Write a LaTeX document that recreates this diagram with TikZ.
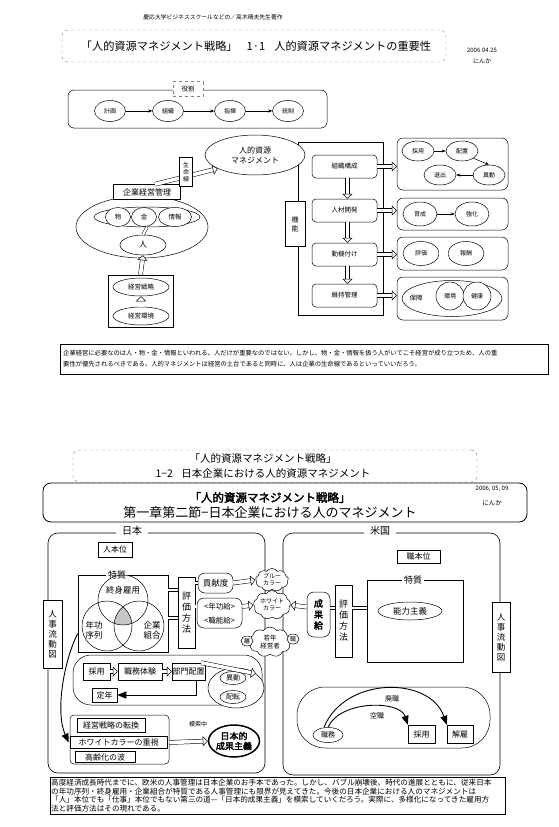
\documentclass[tikz,border=0pt]{standalone}
\usepackage{fontspec}
\newfontfamily\jp{Noto Sans CJK JP}
\newfontfamily\jpb[FakeBold=2.5]{Noto Sans CJK JP}
\usetikzlibrary{shapes.geometric,shapes.symbols,arrows.meta}
\newcommand\fsz[2]{\fontsize{#1}{#2}\selectfont}
\begin{document}
\begin{tikzpicture}[x=1pt,y=-1pt,font=\jp,
 ln/.style={line width=0.5pt},
 ell/.style={ellipse, draw, line width=0.5pt, inner sep=0pt, fill=white},
 bx/.style={rectangle, draw, line width=0.5pt, inner sep=0pt, fill=white},
 rbx/.style={rectangle, rounded corners=4pt, draw, line width=0.5pt, inner sep=0pt, fill=white},
 txt/.style={inner sep=0pt},
 cld/.style={cloud, cloud puffs=9, cloud puff arc=110, aspect=1.4, draw, line width=0.5pt, inner sep=0pt, fill=white},
 harrow/.style={double=white, double distance=3.6pt, line width=0.5pt, -{Triangle[length=5pt,width=10pt,fill=white]}},
 dline/.style={double=white, double distance=2.2pt, line width=0.45pt},
 arr/.style={line width=0.5pt, -{Stealth[length=4pt,width=3pt]}},
 bigarr/.style={line width=1pt, -{Triangle[length=9pt,width=7pt]}},
 vt/.style={align=center}
]
\useasboundingbox[fill=white] (0,0) rectangle (559,827);

% ---------- top header ----------
\node[txt, font=\jp\fsz{5.8}{7}] (hand) at (213,17) {慶応大学ビジネススクールなどの／高木晴夫先生著作};
\node[draw=gray, dashed, rounded corners=6pt, minimum width=384pt, minimum height=32pt, inner sep=0] (t1box) at (254,46) {};
\node[txt, font=\jp\fsz{11.2}{13}] (t1) at (256,46) {「人的資源マネジメント戦略」\hspace{0.8em}1·1\hspace{0.8em}人的資源マネジメントの重要性};
\node[txt, font=\jp\fsz{6}{7}] (d1) at (482,50) {2006.04.25};
\node[txt, font=\jp\fsz{6}{7}] (n1) at (482,61) {にんか};

% ---------- 役割 ----------
\node[draw, line width=0.5pt, rounded corners=6pt, minimum width=259pt, minimum height=38pt, inner sep=0] (yframe) at (197.5,109) {};
\node[draw=gray, dashed, fill=white, minimum width=30pt, minimum height=15pt, inner sep=0, font=\jp\fsz{6.5}{7}] (yaku) at (188,89) {役割};
\node[ell, minimum width=31pt, minimum height=21pt, font=\jp\fsz{6}{7}] (keikaku) at (110,111) {計画};
\node[ell, minimum width=31pt, minimum height=21pt, font=\jp\fsz{6}{7}] (soshiki) at (168,111) {組織};
\node[ell, minimum width=31pt, minimum height=21pt, font=\jp\fsz{6}{7}] (shiki) at (230,111) {指揮};
\node[ell, minimum width=31pt, minimum height=21pt, font=\jp\fsz{6}{7}] (tousei) at (288,111) {統制};
\draw[arr] (keikaku) -- (soshiki);
\draw[arr] (soshiki) -- (shiki);
\draw[arr] (shiki) -- (tousei);

% ---------- 人的資源マネジメント ----------
\node[draw, line width=0.5pt, minimum width=85pt, minimum height=173pt, inner sep=0] (hframe) at (340.5,228.5) {};
\node[ell, minimum width=100pt, minimum height=40pt, font=\jp\fsz{8}{10}, align=center] (jinteki) at (255,155) {人的資源\\マネジメント};

\node[ell, minimum width=132pt, minimum height=62pt] (bigell) at (142,227) {};
\node[bx, minimum width=67pt, minimum height=15pt, font=\jp\fsz{8}{9}] (kigyo) at (147,192) {企業経営管理};
\draw[harrow] ([xshift=8pt]kigyo.north) -- (jinteki.200);
\node[bx, minimum width=13pt, minimum height=29pt, font=\jp\fsz{6}{7}, vt] (seimei) at (186,172) {生\\命\\線};

\node[ell, minimum width=106pt, minimum height=20pt] (mkj) at (147,217) {};
\node[ell, minimum width=25pt, minimum height=19pt, font=\jp\fsz{6.5}{7}] (mono) at (118,217) {物};
\node[ell, minimum width=25pt, minimum height=19pt, font=\jp\fsz{6.5}{7}] (kane) at (144,217) {金};
\node[ell, minimum width=33pt, minimum height=19pt, font=\jp\fsz{6.5}{7}] (jouhou) at (175,217) {情報};
\node[ell, minimum width=46pt, minimum height=20pt, font=\jp\fsz{8}{9}] (hito) at (143,245) {人};
\draw[dline] (hito.north) -- (mkj.south);

\node[bx, minimum width=65pt, minimum height=52pt] (kbox) at (140.5,301) {};
\node[ell, minimum width=56pt, minimum height=18pt, font=\jp\fsz{6.5}{7}] (ksen) at (141,287) {経営戦略};
\node[ell, minimum width=56pt, minimum height=18pt, font=\jp\fsz{6.5}{7}] (kkan) at (141,316) {経営環境};
\draw[harrow] (kkan.north) -- (ksen.south);
\draw[harrow] (kbox.north) -- (hito.south);

\node[bx, minimum width=20pt, minimum height=45pt, font=\jp\fsz{7}{9}, vt] (kinou) at (295,224) {機\\能};

\node[rbx, minimum width=65pt, minimum height=23pt, font=\jp\fsz{6.5}{7}] (b1) at (344.5,166.5) {組織構成};
\node[rbx, minimum width=65pt, minimum height=23pt, font=\jp\fsz{6.5}{7}] (b2) at (344.5,210.5) {人材開発};
\node[rbx, minimum width=65pt, minimum height=23pt, font=\jp\fsz{6.5}{7}] (b3) at (344.5,254.5) {動機付け};
\node[rbx, minimum width=65pt, minimum height=23pt, font=\jp\fsz{6.5}{7}] (b4) at (344.5,295.5) {維持管理};
\draw[harrow] ([xshift=3pt]b1.south) -- ([xshift=3pt]b2.north);
\draw[harrow] ([xshift=3pt]b2.south) -- ([xshift=3pt]b3.north);
\draw[harrow] ([xshift=3pt]b3.south) -- ([xshift=3pt]b4.north);

\node[rbx, rounded corners=6pt, minimum width=111pt, minimum height=52pt] (r1) at (452.5,164) {};
\node[rbx, rounded corners=6pt, minimum width=111pt, minimum height=32pt] (r2) at (452.5,214) {};
\node[rbx, rounded corners=6pt, minimum width=111pt, minimum height=33pt] (r3) at (452.5,253.5) {};
\node[rbx, rounded corners=6pt, minimum width=111pt, minimum height=43pt] (r4) at (452.5,298.5) {};
\draw[harrow] (b1.east) -- (b1.east -| r1.west);
\draw[harrow] (b2.east) -- (b2.east -| r2.west);
\draw[harrow] (b3.east) -- (b3.east -| r3.west);
\draw[harrow] (b4.east) -- (b4.east -| r4.west);

\node[ell, minimum width=32pt, minimum height=20pt, font=\jp\fsz{6}{7}] (saiyo1) at (418,151) {採用};
\node[ell, minimum width=32pt, minimum height=20pt, font=\jp\fsz{6}{7}] (haichi1) at (462,151) {配置};
\node[ell, minimum width=32pt, minimum height=20pt, font=\jp\fsz{6}{7}] (idou1) at (489,175) {異動};
\node[ell, minimum width=32pt, minimum height=20pt, font=\jp\fsz{6}{7}] (taishutsu) at (440,175) {退出};
\draw[arr] (saiyo1) -- (haichi1);
\draw[arr] (haichi1.south east) -- (idou1.north);
\draw[arr] (idou1) -- (taishutsu);

\node[ell, minimum width=34pt, minimum height=24pt, font=\jp\fsz{6}{7}] (ikusei) at (420,214) {育成};
\node[ell, minimum width=34pt, minimum height=24pt, font=\jp\fsz{6}{7}] (kyouka) at (472,214) {強化};
\draw[arr] (ikusei) -- (kyouka);

\node[ell, minimum width=36pt, minimum height=24pt, font=\jp\fsz{6}{7}] (hyouka) at (421,253.5) {評価};
\node[ell, minimum width=36pt, minimum height=24pt, font=\jp\fsz{6}{7}] (houshuu) at (466,253.5) {報酬};
\draw[dline] (hyouka) -- (houshuu);

\node[ell, minimum width=100pt, minimum height=36pt] (hoshoell) at (452,298.5) {};
\node[txt, font=\jp\fsz{6.5}{7}] (hosho) at (416,298.5) {保障};
\node[circle, draw, line width=0.5pt, fill=white, minimum size=28pt, inner sep=0, font=\jp\fsz{6}{7}] (kankyou) at (450,296) {環境};
\node[circle, draw, line width=0.5pt, fill=white, minimum size=28pt, inner sep=0, font=\jp\fsz{6}{7}] (kenkou) at (477,296) {健康};

% ---------- paragraph 1 ----------
\node[draw, line width=0.5pt, minimum width=488pt, minimum height=30pt, inner sep=0] (p1box) at (304,359) {};
\node[txt, anchor=west, font=\jp\fsz{6.3}{11}, align=left] (p1) at (63,358.5) {企業経営に必要なのは人・物・金・情報といわれる。人だけが重要なのではない。しかし、物・金・情報を扱う人がいてこそ経営が成り立つため、人の重\\要性が優先されるべきである。人的マネジメントは経営の土台であると同時に、人は企業の生命線であるといっていいだろう。};

% ---------- lower header ----------
\node[draw=gray, dashed, rounded corners=6pt, minimum width=404pt, minimum height=32pt, inner sep=0] (t2box) at (275,466) {};
\node[txt, font=\jp\fsz{10.5}{12}] (t2a) at (263,459) {「人的資源マネジメント戦略」};
\node[txt, font=\jp\fsz{10.5}{12}] (t2b) at (263,473) {1−2\hspace{0.8em}日本企業における人的資源マネジメント};
\node[draw, fill=white, line width=0.8pt, rounded corners=8pt, minimum width=484pt, minimum height=39pt, inner sep=0] (t3box) at (285,502.5) {};
\node[txt, font=\jpb\fsz{11.5}{13}] (t3a) at (270,497.5) {「人的資源マネジメント戦略」};
\node[txt, font=\jp\fsz{13}{14}] (t3b) at (270,512.5) {第一章第二節−日本企業における人のマネジメント};
\node[txt, font=\jp\fsz{6}{7}] (d2) at (492,489) {2006, 05, 09};
\node[txt, font=\jp\fsz{6.5}{7}] (n2) at (492,503) {にんか};

% ---------- frames ----------
\node[draw, line width=0.6pt, rounded corners=10pt, minimum width=217pt, minimum height=240pt, inner sep=0] (jpframe) at (156.5,653) {};
\node[fill=white, inner xsep=6pt, inner ysep=0, font=\jp\fsz{10}{11}] (jplbl) at (132,531) {日本};
\node[draw, line width=0.6pt, rounded corners=10pt, minimum width=217pt, minimum height=242pt, inner sep=0] (usframe) at (391.5,654) {};
\node[fill=white, inner xsep=6pt, inner ysep=0, font=\jp\fsz{10}{11}] (uslbl) at (380,531) {米国};

% ---------- Japan ----------
\node[bx, minimum width=34pt, minimum height=15pt, font=\jp\fsz{8}{9}] (hitohoni) at (115,549.5) {人本位};
\node[bx, minimum width=90pt, minimum height=77pt] (tok1) at (123,613.5) {};
\node[fill=white, inner xsep=2pt, inner ysep=0, font=\jp\fsz{9}{10}] (tok1l) at (117,575) {特質};
\begin{scope}
\clip (123,600) circle[radius=25];
\clip (107,626) circle[radius=25];
\fill[gray!45] (139,626) circle[radius=25];
\end{scope}
\node[circle, draw, line width=0.5pt, minimum size=50pt, inner sep=0] (vtop) at (123,600) {};
\node[circle, draw, line width=0.5pt, minimum size=50pt, inner sep=0] (vleft) at (107,626) {};
\node[circle, draw, line width=0.5pt, minimum size=50pt, inner sep=0] (vright) at (139,626) {};
\node[txt, font=\jp\fsz{8.5}{10}] (shushin) at (123,590) {終身雇用};
\node[txt, font=\jp\fsz{8.5}{10}, vt] (nenko) at (94,630) {年功\\序列};
\node[txt, font=\jp\fsz{8.5}{10}, vt] (kumiai) at (152,630) {企業\\組合};

\node[bx, minimum width=17pt, minimum height=71pt, font=\jp\fsz{9}{11}, vt] (hyoka1) at (186.5,612.5) {評\\価\\方\\法};
\draw[dline] (tok1.east |- 0,590) -- (hyoka1.west |- 0,590);
\draw[dline] (tok1.east |- 0,618) -- (hyoka1.west |- 0,618);

\node[rbx, rounded corners=7pt, minimum width=35pt, minimum height=20pt, font=\jp\fsz{8.5}{9}] (kouken) at (215.5,583) {貢献度};
\draw[dline] (hyoka1.east |- kouken.west) -- (kouken.west);
\node[rbx, rounded corners=7pt, minimum width=45pt, minimum height=30pt] (nenkoubox) at (219.5,613) {};
\node[txt, font=\jp\fsz{7.5}{8}] (nenkou) at (219.5,606.5) {<年功給>};
\node[txt, font=\jp\fsz{7.5}{8}] (shokunou) at (219.5,620.5) {<職能給>};
\draw[dline] (hyoka1.east |- nenkou.west) -- (nenkoubox.west |- nenkou.west);

\node[cld, minimum width=33pt, minimum height=23pt, font=\jp\fsz{6}{7}, vt] (blue) at (272,580) {ブルー\\カラー};
\node[cld, minimum width=37pt, minimum height=23pt, font=\jp\fsz{6}{7}, vt] (white) at (272,605) {ホワイト\\カラー};
\draw[harrow] (kouken.east) -- (blue.west);
\draw[harrow] (nenkou.east -| nenkoubox.east) -- (white.west);
\node[cld, minimum width=42pt, minimum height=30pt, font=\jp\fsz{6.5}{7.5}, vt] (jakunen) at (270,642) {若年\\経営者};
\node[ell, minimum width=12pt, minimum height=10pt, font=\jp\fsz{6}{7}] (ri) at (247,641) {離};
\node[ell, minimum width=12pt, minimum height=10pt, font=\jp\fsz{6}{7}] (shoku) at (293,639) {職};

\node[bx, minimum width=19pt, minimum height=68pt, font=\jp\fsz{8.5}{10}, vt] (ryudo1) at (52.5,634) {人\\事\\流\\動\\図};

\node[draw, line width=0.5pt, rounded corners=18pt, minimum width=189pt, minimum height=50pt, inner sep=0] (mid) at (167.5,680) {};
\node[bx, minimum width=27pt, minimum height=17pt, font=\jp\fsz{8}{9}] (jsaiyo) at (96.5,671.5) {採用};
\node[bx, minimum width=44pt, minimum height=17pt, font=\jp\fsz{8}{9}] (jtaiken) at (140,671.5) {職務体験};
\node[bx, minimum width=33pt, minimum height=17pt, font=\jp\fsz{8}{9}] (bumon) at (188.5,671.5) {部門配置};
\draw[harrow] (jsaiyo) -- (jtaiken);
\draw[harrow] (jtaiken) -- (bumon);
\node[ell, minimum width=56pt, minimum height=40pt] (idoell) at (236,688) {};
\node[ell, minimum width=26pt, minimum height=13pt, font=\jp\fsz{7}{8}] (idou2) at (233,678) {異動};
\node[ell, minimum width=26pt, minimum height=13pt, font=\jp\fsz{7}{8}] (haiten) at (233,697) {配転};
\draw[harrow] ([xshift=-4pt]bumon.north east) -- (idoell.north east);
\node[bx, minimum width=25pt, minimum height=14pt, font=\jp\fsz{8}{9}] (teinen) at (104.5,695) {定年};
\draw[bigarr] ([xshift=8pt]bumon.south) |- (teinen.east);

\node[draw, line width=0.5pt, rounded corners=4pt, minimum width=99pt, minimum height=49pt, inner sep=0] (grp) at (119.5,739.5) {};
\node[bx, minimum width=68pt, minimum height=14pt, font=\jp\fsz{8}{9}] (kstrat) at (111,725) {経営戦略の転換};
\node[bx, minimum width=97pt, minimum height=12pt, font=\jp\fsz{8}{9}] (wc) at (118.5,742.5) {ホワイトカラーの重視};
\node[bx, minimum width=60pt, minimum height=11pt, font=\jp\fsz{8}{9}] (koreika) at (105,757) {高齢化の波};
\node[ell, line width=1.5pt, minimum width=48pt, minimum height=32pt, font=\jpb\fsz{9}{10}, vt] (seika) at (234,741) {日本的\\成果主義};
\draw[harrow] (grp.east |- wc.east) -- (seika.west);
\node[txt, font=\jp\fsz{6}{7}] (mosaku) at (198,724) {模索中};

\draw[bigarr, line width=0.9pt] ([yshift=-20pt]tok1.west) .. controls (64,660) and (55,712) .. ([xshift=-1pt]wc.west);

% ---------- US ----------
\node[bx, minimum width=43pt, minimum height=13pt, font=\jp\fsz{8}{9}] (shokuhoni) at (418.5,556.5) {職本位};
\node[bx, minimum width=96pt, minimum height=82pt] (tok2) at (415,621) {};
\node[fill=white, inner xsep=2pt, inner ysep=0, font=\jp\fsz{9}{10}] (tok2l) at (413,580) {特質};
\node[ell, minimum width=64pt, minimum height=18pt, font=\jp\fsz{8.5}{9}] (nouryoku) at (410,611) {能力主義};
\node[bx, minimum width=17pt, minimum height=72pt, font=\jp\fsz{9}{11}, vt] (hyoka2) at (343.5,621) {評\\価\\方\\法};
\draw[dline] (hyoka2.east |- 0,608) -- (tok2.west |- 0,608);
\node[rbx, rounded corners=7pt, minimum width=23pt, minimum height=45pt, font=\jpb\fsz{9}{11}, vt] (seikakyu) at (318.5,614.5) {成\\果\\給};
\draw[dline] (seikakyu.east |- 0,608) -- (hyoka2.west |- 0,608);
\draw[harrow] (seikakyu.west |- 0,607) -- (white.east);
\node[bx, minimum width=18pt, minimum height=70pt, font=\jp\fsz{8.5}{10}, vt] (ryudo2) at (501,637) {人\\事\\流\\動\\図};

\node[draw, line width=0.5pt, rounded corners=28pt, minimum width=193pt, minimum height=61pt, inner sep=0] (stad) at (393.5,717.5) {};
\node[ell, minimum width=30pt, minimum height=15pt, font=\jp\fsz{7}{8}] (shokumu) at (328,735) {職務};
\node[bx, minimum width=27pt, minimum height=18pt, font=\jp\fsz{8}{9}] (ussaiyo) at (421.5,734) {採用};
\node[bx, minimum width=26pt, minimum height=18pt, font=\jp\fsz{8}{9}] (kaiko) at (460,734) {解雇};
\draw[line width=0.9pt, -{Triangle[length=9pt,width=7pt]}] (shokumu.north) .. controls (340,700) and (400,700) .. (ussaiyo.north west);
\draw[line width=0.9pt, -{Triangle[length=9pt,width=7pt]}] ([xshift=-4pt]shokumu.north) .. controls (345,676) and (430,676) .. (kaiko.north west);
\node[txt, font=\jp\fsz{7}{8}] (kuushoku) at (377,716) {空職};
\node[txt, font=\jp\fsz{7}{8}] (haishoku) at (392,699) {廃職};

% ---------- paragraph 2 ----------
\node[draw, line width=0.5pt, minimum width=455pt, minimum height=37pt, inner sep=0] (p2box) at (277.5,795.5) {};
\node[txt, anchor=west, font=\jp\fsz{7.6}{8.8}, align=left] (p2) at (51,795.5) {高度経済成長時代までに、欧米の人事管理は日本企業のお手本であった。しかし、バブル崩壊後、時代の進展とともに、従来日本\\の年功序列・終身雇用・企業組合が特質である人事管理にも限界が見えてきた。今後の日本企業における人のマネジメントは\\「人」本位でも「仕事」本位でもない第三の道—「日本的成果主義」を模索していくだろう。実際に、多様化になってきた雇用方\\法と評価方法はその現れである。};
\end{tikzpicture}
\end{document}
